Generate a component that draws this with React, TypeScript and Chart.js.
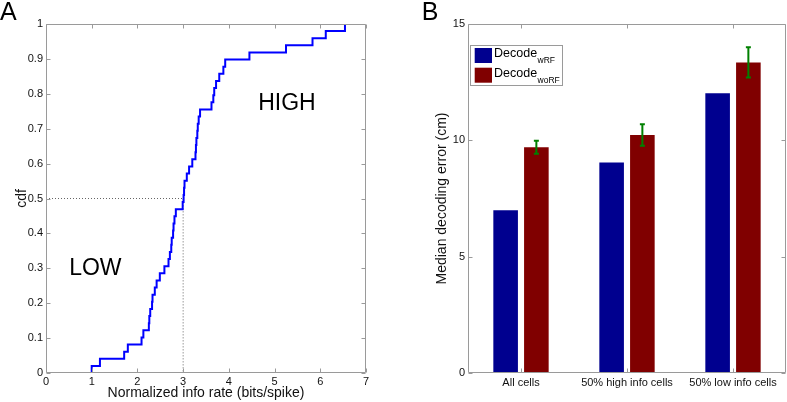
import React, { useEffect, useRef } from 'react';
import { Chart, registerables } from 'chart.js';

Chart.register(...registerables);

const FONT = '"Liberation Sans", Arial, Helvetica, sans-serif';
const AXIS_COLOR = '#9a9a9a';
const TEXT_COLOR = '#111111';

// ---------- Panel A data: sorted normalized info rates (bits/spike), one per cell ----------
const infoRates = [
  1.0, 1.18, 1.71, 1.79, 2.09, 2.13, 2.25, 2.26, 2.28, 2.32,
  2.33, 2.38, 2.42, 2.49, 2.59, 2.68, 2.71, 2.74, 2.75, 2.78,
  2.79, 2.81, 2.84, 2.99, 3.01, 3.02, 3.03, 3.08, 3.13, 3.2,
  3.27, 3.28, 3.29, 3.31, 3.32, 3.34, 3.37, 3.62, 3.66, 3.68,
  3.72, 3.79, 3.88, 3.92, 4.45, 5.25, 5.83, 6.12, 6.54,
];
const medianRate = 3.0;
const medianCdf = 0.5;
const rateTicks = [0, 1, 2, 3, 4, 5, 6, 7];
const rateTickLabels = ['0', '1', '2', '3', '4', '5', '6', '7'];
const cdfTicks = [0, 0.1, 0.2, 0.3, 0.4, 0.5, 0.6, 0.7, 0.8, 0.9, 1];
const cdfTickLabels = ['0', '0.1', '0.2', '0.3', '0.4', '0.5', '0.6', '0.7', '0.8', '0.9', '1'];

// ---------- Panel B data ----------
const groups = ['All cells', '50% high info cells', '50% low info cells'];
const errWithRF = [7.0, 9.05, 12.02];
const errWithoutRF = [9.7, 10.23, 13.35];
const errWithoutRFSem = [0.28, 0.46, 0.65];
const errTicks = [0, 5, 10, 15];
const errTickLabels = ['0', '5', '10', '15'];
const legendMain = ['Decode', 'Decode'];
const legendSub = ['wRF', 'woRF'];
const barColors = ['#00008f', '#800000'];

function drawFrame(chart: any, xVals: number[], yVals: number[]) {
  const { ctx, chartArea: a, scales } = chart;
  const L = Math.round(a.left) + 0.5;
  const R = Math.round(a.right) - 0.5;
  const T = Math.round(a.top) + 0.5;
  const B = Math.round(a.bottom) - 0.5;
  ctx.save();
  ctx.strokeStyle = AXIS_COLOR;
  ctx.lineWidth = 1;
  ctx.beginPath();
  ctx.moveTo(L, T);
  ctx.lineTo(R, T);
  ctx.lineTo(R, B);
  ctx.lineTo(L, B);
  ctx.closePath();
  const tl = 4;
  xVals.forEach((v) => {
    const x = Math.round(scales.x.getPixelForValue(v)) + 0.5;
    ctx.moveTo(x, B);
    ctx.lineTo(x, B - tl);
    ctx.moveTo(x, T);
    ctx.lineTo(x, T + tl);
  });
  yVals.forEach((v) => {
    const y = Math.round(scales.y.getPixelForValue(v)) + 0.5;
    ctx.moveTo(L, y);
    ctx.lineTo(L + tl, y);
    ctx.moveTo(R, y);
    ctx.lineTo(R - tl, y);
  });
  ctx.stroke();
  ctx.restore();
}

const noGrid = { display: false, drawTicks: false, tickLength: 0 };

function makeConfigA(): any {
  const n = infoRates.length;
  const cdfPoints = [{ x: infoRates[0], y: 0 }].concat(
    infoRates.map((v, i) => ({ x: v, y: (i + 1) / n }))
  );
  const guide = [
    { x: 0, y: medianCdf },
    { x: medianRate, y: medianCdf },
    { x: medianRate, y: 0 },
  ];
  const panelA = {
    id: 'panelA',
    afterDatasetsDraw(chart: any) {
      drawFrame(chart, rateTicks, cdfTicks);
    },
    afterDraw(chart: any) {
      const { ctx, scales } = chart;
      ctx.save();
      ctx.fillStyle = '#000';
      ctx.font = `23px ${FONT}`;
      ctx.textAlign = 'center';
      ctx.textBaseline = 'middle';
      ctx.fillText('LOW', scales.x.getPixelForValue(1.08), scales.y.getPixelForValue(0.298));
      ctx.fillText('HIGH', scales.x.getPixelForValue(5.27), scales.y.getPixelForValue(0.772));
      ctx.font = `25px ${FONT}`;
      ctx.textAlign = 'left';
      ctx.textBaseline = 'alphabetic';
      ctx.fillText('A', 0, 20);
      ctx.restore();
    },
  };
  return {
    type: 'line',
    data: {
      datasets: [
        {
          data: cdfPoints,
          borderColor: '#0000ff',
          borderWidth: 2,
          stepped: 'before',
          pointRadius: 0,
          fill: false,
        },
        {
          data: guide,
          borderColor: '#666666',
          borderWidth: 1,
          borderDash: [1, 2],
          pointRadius: 0,
          fill: false,
        },
      ],
    },
    options: {
      responsive: false,
      animation: false,
      devicePixelRatio: 1,
      layout: { padding: { top: 24, right: 34, left: 0, bottom: 0 } },
      plugins: { legend: { display: false }, tooltip: { enabled: false } },
      scales: {
        x: {
          type: 'linear',
          min: 0,
          max: 7,
          afterBuildTicks: (s: any) => {
            s.ticks = rateTicks.map((v) => ({ value: v }));
          },
          afterFit: (s: any) => {
            s.height = 29;
          },
          grid: noGrid,
          border: { display: false },
          ticks: {
            font: { family: FONT, size: 11 },
            color: TEXT_COLOR,
            padding: 2,
            maxRotation: 0,
            autoSkip: false,
            callback: (_v: any, i: number) => rateTickLabels[i],
          },
          title: {
            display: true,
            text: 'Normalized info rate (bits/spike)',
            font: { family: FONT, size: 14 },
            color: TEXT_COLOR,
            padding: { top: 0, bottom: 0 },
          },
        },
        y: {
          type: 'linear',
          min: 0,
          max: 1,
          afterBuildTicks: (s: any) => {
            s.ticks = cdfTicks.map((v) => ({ value: v }));
          },
          afterFit: (s: any) => {
            s.width = 46;
          },
          grid: noGrid,
          border: { display: false },
          ticks: {
            font: { family: FONT, size: 11 },
            color: TEXT_COLOR,
            padding: 3,
            autoSkip: false,
            callback: (_v: any, i: number) => cdfTickLabels[i],
          },
          title: {
            display: true,
            text: 'cdf',
            font: { family: FONT, size: 14 },
            color: TEXT_COLOR,
            padding: { top: 13.6, bottom: 0 },
          },
        },
      },
    },
    plugins: [panelA],
  };
}

function makeConfigB(): any {
  const panelB = {
    id: 'panelB',
    afterDatasetsDraw(chart: any) {
      const { ctx, scales } = chart;
      // error bars on the woRF bars
      const meta = chart.getDatasetMeta(1);
      ctx.save();
      ctx.strokeStyle = '#008000';
      ctx.lineWidth = 2;
      meta.data.forEach((bar: any, i: number) => {
        const x = bar.x;
        const yHi = scales.y.getPixelForValue(errWithoutRF[i] + errWithoutRFSem[i]);
        const yLo = scales.y.getPixelForValue(errWithoutRF[i] - errWithoutRFSem[i]);
        ctx.beginPath();
        ctx.moveTo(x, yHi);
        ctx.lineTo(x, yLo);
        ctx.moveTo(x - 2.5, yHi);
        ctx.lineTo(x + 2.5, yHi);
        ctx.moveTo(x - 2.5, yLo);
        ctx.lineTo(x + 2.5, yLo);
        ctx.stroke();
      });
      ctx.restore();
      drawFrame(chart, groups.map((_g, i) => i), errTicks);
    },
    afterDraw(chart: any) {
      const { ctx, chartArea: a } = chart;
      ctx.save();
      // legend box
      const bx = Math.round(a.left + 2) + 0.5;
      const by = Math.round(a.top + 21) + 0.5;
      ctx.fillStyle = '#ffffff';
      ctx.fillRect(bx, by, 92, 40);
      ctx.strokeStyle = AXIS_COLOR;
      ctx.lineWidth = 1;
      ctx.strokeRect(bx, by, 92, 40);
      for (let i = 0; i < 2; i++) {
        const rowY = a.top + 24 + i * 19.7;
        ctx.fillStyle = barColors[i];
        ctx.fillRect(a.left + 6.7, rowY, 17.3, 15);
        ctx.fillStyle = '#000';
        ctx.textAlign = 'left';
        ctx.textBaseline = 'alphabetic';
        ctx.font = `12.5px ${FONT}`;
        const tx = a.left + 26;
        ctx.fillText(legendMain[i], tx, rowY + 9.2);
        const w = ctx.measureText(legendMain[i]).width;
        ctx.font = `8.5px ${FONT}`;
        ctx.fillText(legendSub[i], tx + w + 0.5, rowY + 15.3);
      }
      ctx.font = `25px ${FONT}`;
      ctx.fillStyle = '#000';
      ctx.fillText('B', 21.7, 20);
      ctx.restore();
    },
  };
  return {
    type: 'bar',
    data: {
      labels: groups,
      datasets: [
        {
          label: legendMain[0] + legendSub[0],
          data: errWithRF,
          backgroundColor: barColors[0],
          categoryPercentage: 0.58,
          barPercentage: 0.8,
        },
        {
          label: legendMain[1] + legendSub[1],
          data: errWithoutRF,
          backgroundColor: barColors[1],
          categoryPercentage: 0.58,
          barPercentage: 0.8,
        },
      ],
    },
    options: {
      responsive: false,
      animation: false,
      devicePixelRatio: 1,
      layout: { padding: { top: 24, right: 1, left: 0, bottom: 0 } },
      plugins: { legend: { display: false }, tooltip: { enabled: false } },
      scales: {
        x: {
          afterFit: (s: any) => {
            s.height = 29;
          },
          grid: noGrid,
          border: { display: false },
          ticks: {
            font: { family: FONT, size: 11 },
            color: TEXT_COLOR,
            padding: 3,
            maxRotation: 0,
            autoSkip: false,
          },
        },
        y: {
          type: 'linear',
          min: 0,
          max: 15,
          afterBuildTicks: (s: any) => {
            s.ticks = errTicks.map((v) => ({ value: v }));
          },
          afterFit: (s: any) => {
            s.width = 68;
          },
          grid: noGrid,
          border: { display: false },
          ticks: {
            font: { family: FONT, size: 11 },
            color: TEXT_COLOR,
            padding: 3,
            autoSkip: false,
            callback: (_v: any, i: number) => errTickLabels[i],
          },
          title: {
            display: true,
            text: 'Median decoding error (cm)',
            font: { family: FONT, size: 14 },
            color: TEXT_COLOR,
            padding: { top: 34, bottom: 0 },
          },
        },
      },
    },
    plugins: [panelB],
  };
}

function ChartCanvas(props: { left: number; width: number; height: number; make: () => any }) {
  const ref = useRef<HTMLCanvasElement>(null);
  useEffect(() => {
    const chart = new Chart(ref.current as HTMLCanvasElement, props.make());
    return () => chart.destroy();
  }, []);
  return (
    <canvas
      ref={ref}
      width={props.width}
      height={props.height}
      style={{ position: 'absolute', left: props.left, top: 0, width: props.width, height: props.height, display: 'block' }}
    />
  );
}

export default function App() {
  return (
    <div style={{ position: 'fixed', left: 0, top: 0, width: 787, height: 402, background: '#ffffff', overflow: 'hidden' }}>
      <ChartCanvas left={0} width={400} height={402} make={makeConfigA} />
      <ChartCanvas left={400} width={387} height={402} make={makeConfigB} />
    </div>
  );
}
